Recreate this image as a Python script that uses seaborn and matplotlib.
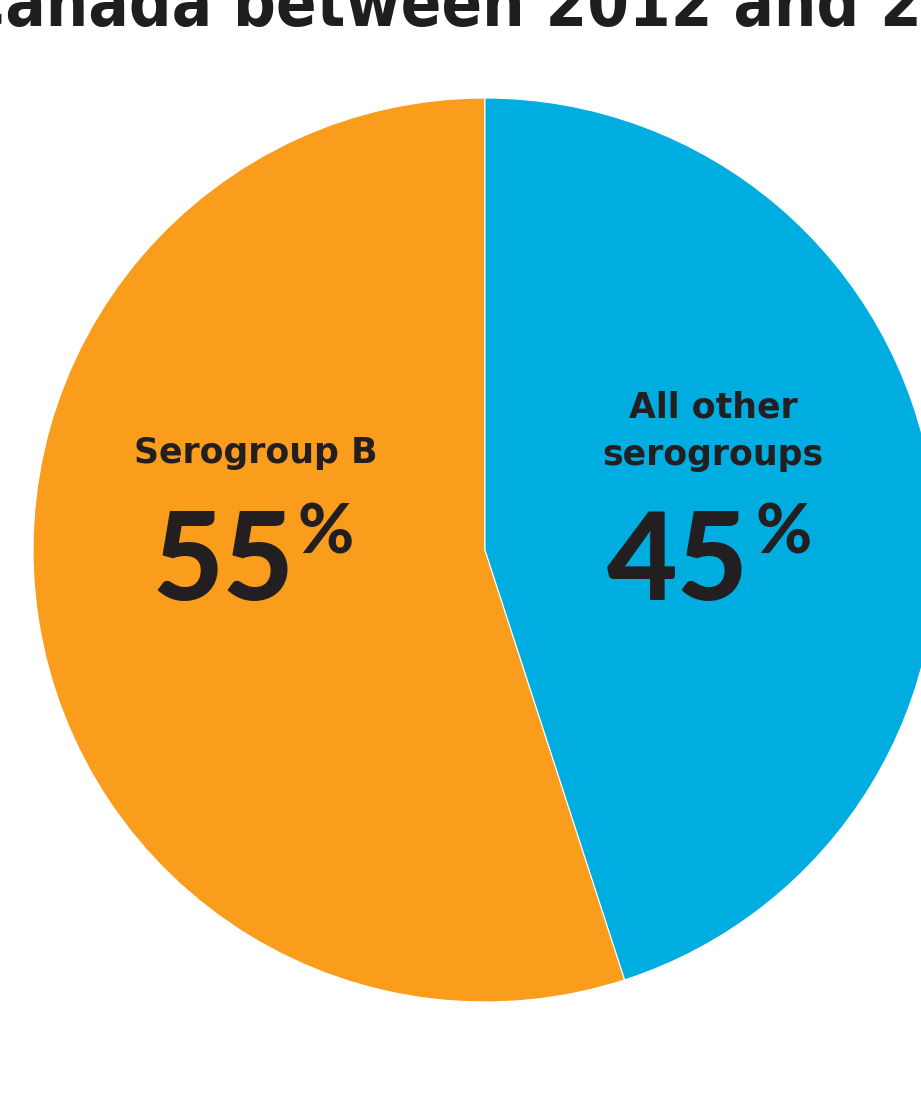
import matplotlib
matplotlib.use("Agg")
import matplotlib.pyplot as plt
import seaborn as sns

# data
labels = ["Serogroup B", "All other serogroups"]
shares = [55, 45]
colors = ["#FA9D1C", "#00ADE0"]
title = "Serogroups of IMD cases in Canada between 2012 and 2019"

sns.set_theme(style="white")
plt.rcParams["font.family"] = ["Lato", "DejaVu Sans"]

W, H = 921, 1109
fig = plt.figure(figsize=(W / 100, H / 100), dpi=100)
ax = fig.add_axes([0, 0, 1, 1])

ax.pie(shares, colors=colors, startangle=90, counterclock=True,
       center=(485, H - 550), radius=452, frame=False,
       wedgeprops=dict(edgecolor="white", linewidth=0.8))
ax.set_xlim(0, W)
ax.set_ylim(0, H)
ax.set_aspect("equal")
ax.axis("off")

dark = "#231F20"

# title, cropped at the top of the picture
title_kw = dict(fontsize=48, fontweight="bold", fontstretch="condensed",
                color="#1E1E1E", family=["DejaVu Sans"])
renderer = fig.canvas.get_renderer()
probe = ax.text(0, 0, title.split(" 2012")[0], **title_kw)
w_prefix = probe.get_window_extent(renderer).width
probe.remove()
ax.text(525 - w_prefix, H - 25, title, ha="left", va="baseline", **title_kw)

lab_kw = dict(fontsize=25, fontweight="bold", color=dark, family=["DejaVu Sans"])
num_kw = dict(fontsize=88, fontweight="black", color=dark)
pct_kw = dict(fontsize=49, fontweight="black", color=dark)

# Serogroup B
ax.text(256, H - 463, labels[0], ha="center", va="baseline", **lab_kw)
ax.text(152, H - 600, f"{shares[0]}", ha="left", va="baseline", **num_kw)
ax.text(297, H - 553, "%", ha="left", va="baseline", **pct_kw)

# All other serogroups
ax.text(713, H - 417, "All other", ha="center", va="baseline", **lab_kw)
ax.text(713, H - 465, "serogroups", ha="center", va="baseline", **lab_kw)
ax.text(607, H - 600, f"{shares[1]}", ha="left", va="baseline", **num_kw)
ax.text(755, H - 553, "%", ha="left", va="baseline", **pct_kw)

fig.savefig("out.png", dpi=100)
plt.close(fig)
